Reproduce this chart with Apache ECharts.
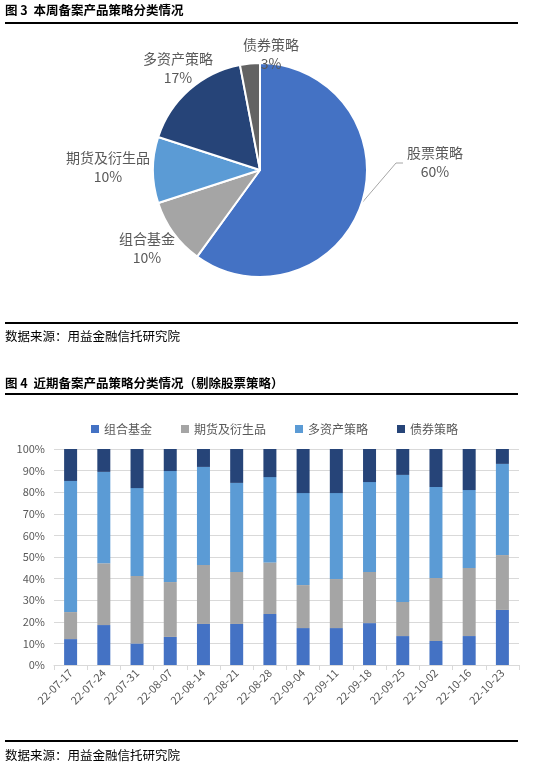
<!DOCTYPE html>
<html>
<head>
<meta charset="utf-8">
<script src="https://cdn.jsdelivr.net/npm/echarts@6/dist/echarts.min.js"></script>
<style>
html, body { margin: 0; padding: 0; background: #fff; }
#chart { width: 540px; height: 762px; }
</style>
</head>
<body>
<div id="chart"></div>
<script>
// 图3 本周备案产品策略分类情况 (%)
const pieNames  = ['股票策略', '组合基金', '期货及衍生品', '多资产策略', '债券策略'];
const pieValues = [60, 10, 10, 17, 3];

// 图4 近期备案产品策略分类情况（剔除股票策略） (%)
const weeks = ['22-07-17', '22-07-24', '22-07-31', '22-08-07', '22-08-14', '22-08-21', '22-08-28',
               '22-09-04', '22-09-11', '22-09-18', '22-09-25', '22-10-02', '22-10-16', '22-10-23'];
const zuheJijin  = [12.0, 18.5, 10.0, 13.0, 19.0, 19.0, 23.6, 17.1, 17.1, 19.4, 13.4, 11.1, 13.4, 25.5];
const qihuo      = [12.5, 28.6, 31.2, 25.4, 27.3, 24.1, 23.9, 19.9, 22.7, 23.7, 15.8, 29.2, 31.5, 25.4];
const duozichan  = [60.7, 42.3, 40.7, 51.4, 45.4, 41.2, 39.5, 42.6, 39.8, 41.6, 58.8, 42.1, 36.1, 42.2];
const zhaiquan   = [14.8, 10.6, 18.1, 10.2,  8.3, 15.7, 13.0, 20.4, 20.4, 15.3, 12.0, 17.6, 19.0,  6.9];

const barNames = ['组合基金', '期货及衍生品', '多资产策略', '债券策略'];
const barSeriesData = [zuheJijin, qihuo, duozichan, zhaiquan];
const barColors = ['#4472c4', '#a5a5a5', '#5b9bd5', '#264478'];
const pieColors = ['#4472c4', '#a5a5a5', '#5b9bd5', '#264478', '#636363'];

const cjk = '"Noto Sans CJK SC", "Noto Sans", sans-serif';
const grey = '#595959';

// pie geometry
const pieCx = 260, pieCy = 170, pieR = 107;
// label centres relative to pie centre (Excel places these by hand)
const pieLabelAt = [[175, -8], [-113, 78], [-152, -3], [-82, -102], [11, -116]];

const chart = echarts.init(document.getElementById('chart'));

function hline(y) {
   return { type: 'rect', shape: { x: 5, y: y - 1, width: 513, height: 2 }, style: { fill: '#000' } };
}
function txt(x, y, s, bold) {
   return {
      type: 'text', x: x, y: y,
      style: { text: s, font: (bold ? 'bold ' : '') + '12.5px ' + cjk, fill: '#000', verticalAlign: 'middle' }
   };
}

const pieData = pieNames.map((n, i) => ({
   name: n,
   value: pieValues[i],
   itemStyle: { color: pieColors[i] },
   labelLine: { show: i === 0 }
}));

const barSeries = barNames.map((n, i) => ({
   name: n,
   type: 'bar',
   stack: 'all',
   barWidth: 13,
   data: barSeriesData[i],
   itemStyle: { color: barColors[i] },
   emphasis: { disabled: true }
}));

chart.setOption({
   animation: false,
   graphic: [
      txt(5, 10, '图 3  本周备案产品策略分类情况', true),
      hline(23),
      hline(323),
      txt(5, 336, '数据来源：用益金融信托研究院', false),
      txt(5, 383, '图 4  近期备案产品策略分类情况（剔除股票策略）', true),
      hline(394),
      hline(741),
      txt(5, 755, '数据来源：用益金融信托研究院', false)
   ],
   legend: {
      data: barNames,
      left: 86,
      top: 418,
      icon: 'rect',
      itemWidth: 8,
      itemHeight: 8,
      itemGap: 29,
      textStyle: { fontFamily: cjk, fontSize: 12, color: grey }
   },
   grid: { left: 54, right: 21, top: 449, bottom: 97 },
   xAxis: {
      type: 'category',
      data: weeks,
      axisLine: { lineStyle: { color: '#d9d9d9' } },
      axisTick: { show: true, length: 5, lineStyle: { color: '#d9d9d9' } },
      axisLabel: { rotate: 45, fontFamily: cjk, fontSize: 11, color: grey, margin: 6 }
   },
   yAxis: {
      type: 'value',
      min: 0,
      max: 100,
      interval: 10,
      axisLabel: { formatter: '{value}%', fontFamily: cjk, fontSize: 11, color: grey, margin: 9 },
      splitLine: { lineStyle: { color: '#d9d9d9' } }
   },
   series: [
      {
         type: 'pie',
         center: [pieCx, pieCy],
         radius: pieR,
         startAngle: 90,
         clockwise: true,
         data: pieData,
         itemStyle: { borderColor: '#fff', borderWidth: 2 },
         emphasis: { disabled: true },
         label: {
            show: true,
            position: 'outside',
            formatter: '{b}\n{d}%',
            fontFamily: cjk,
            fontSize: 14,
            lineHeight: 19,
            color: grey
         },
         labelLine: { lineStyle: { color: '#a6a6a6', width: 1 } },
         labelLayout: function (p) {
            const at = pieLabelAt[p.dataIndex];
            const x = pieCx + at[0], y = pieCy + at[1];
            const out = { x: x, y: y, align: 'center', verticalAlign: 'middle' };
            if (p.dataIndex === 0) {
               // leader line: from the middle of the slice edge to the left of the label
               let a = 0;
               const total = pieValues.reduce((s, v) => s + v, 0);
               a = (pieValues[0] / 2) / total * 2 * Math.PI;
               const p0 = [pieCx + pieR * Math.sin(a), pieCy - pieR * Math.cos(a)];
               const p2 = [x - p.labelRect.width / 2 - 4, y + 1];
               const p1 = [p2[0] - 7, p2[1]];
               out.labelLinePoints = [p0, p1, p2];
            }
            return out;
         }
      }
   ].concat(barSeries)
});
</script>
</body>
</html>
